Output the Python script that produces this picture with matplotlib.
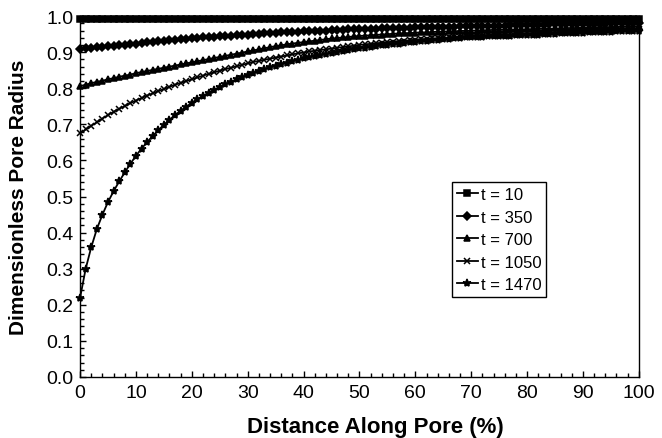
import matplotlib
matplotlib.use("Agg")
import matplotlib.pyplot as plt
from matplotlib.ticker import MultipleLocator, FormatStrFormatter

plt.rcParams['font.family'] = ['Liberation Sans', 'DejaVu Sans']

# Distance along pore (%) - one point per percent
distance = list(range(0, 101))

labels = ["t = 10", "t = 350", "t = 700", "t = 1050", "t = 1470"]

r_t10 = [
    0.993, 0.993, 0.993, 0.993, 0.993, 0.993, 0.993, 0.993, 0.993, 0.993,
    0.993, 0.993, 0.993, 0.993, 0.993, 0.993, 0.993, 0.993, 0.993, 0.993,
    0.993, 0.993, 0.993, 0.993, 0.993, 0.993, 0.993, 0.993, 0.993, 0.993,
    0.993, 0.993, 0.993, 0.993, 0.993, 0.993, 0.993, 0.993, 0.993, 0.993,
    0.993, 0.993, 0.993, 0.993, 0.993, 0.993, 0.993, 0.993, 0.993, 0.993,
    0.993, 0.993, 0.993, 0.993, 0.993, 0.993, 0.993, 0.993, 0.993, 0.993,
    0.993, 0.993, 0.993, 0.993, 0.993, 0.993, 0.993, 0.993, 0.993, 0.993,
    0.993, 0.993, 0.993, 0.993, 0.993, 0.993, 0.993, 0.993, 0.993, 0.993,
    0.993, 0.993, 0.993, 0.993, 0.993, 0.993, 0.993, 0.993, 0.993, 0.993,
    0.993, 0.993, 0.993, 0.993, 0.993, 0.993, 0.993, 0.993, 0.993, 0.993,
    0.993,
]

r_t350 = [
    0.909, 0.911, 0.912, 0.914, 0.915, 0.917, 0.918, 0.920, 0.921, 0.923,
    0.924, 0.926, 0.927, 0.929, 0.930, 0.932, 0.933, 0.934, 0.936, 0.937,
    0.938, 0.939, 0.941, 0.942, 0.943, 0.944, 0.945, 0.946, 0.947, 0.948,
    0.949, 0.950, 0.951, 0.952, 0.953, 0.954, 0.955, 0.955, 0.956, 0.957,
    0.958, 0.958, 0.959, 0.960, 0.960, 0.961, 0.962, 0.962, 0.963, 0.963,
    0.964, 0.964, 0.965, 0.965, 0.966, 0.966, 0.967, 0.967, 0.968, 0.968,
    0.969, 0.969, 0.969, 0.970, 0.970, 0.971, 0.971, 0.971, 0.972, 0.972,
    0.972, 0.973, 0.973, 0.973, 0.974, 0.974, 0.974, 0.975, 0.975, 0.975,
    0.976, 0.976, 0.976, 0.976, 0.977, 0.977, 0.977, 0.978, 0.978, 0.978,
    0.978, 0.979, 0.979, 0.979, 0.979, 0.980, 0.980, 0.980, 0.980, 0.981,
    0.981,
]

r_t700 = [
    0.806, 0.810, 0.814, 0.818, 0.821, 0.825, 0.828, 0.832, 0.835, 0.838,
    0.842, 0.845, 0.848, 0.851, 0.854, 0.857, 0.860, 0.863, 0.866, 0.869,
    0.872, 0.875, 0.878, 0.881, 0.884, 0.887, 0.890, 0.893, 0.896, 0.899,
    0.902, 0.905, 0.908, 0.911, 0.914, 0.917, 0.919, 0.922, 0.924, 0.926,
    0.928, 0.930, 0.932, 0.934, 0.936, 0.938, 0.939, 0.941, 0.942, 0.944,
    0.945, 0.946, 0.947, 0.948, 0.949, 0.950, 0.951, 0.952, 0.953, 0.953,
    0.954, 0.955, 0.955, 0.956, 0.957, 0.957, 0.958, 0.958, 0.959, 0.959,
    0.960, 0.960, 0.961, 0.961, 0.962, 0.962, 0.962, 0.963, 0.963, 0.963,
    0.964, 0.964, 0.965, 0.965, 0.965, 0.966, 0.966, 0.967, 0.967, 0.967,
    0.968, 0.968, 0.969, 0.969, 0.969, 0.970, 0.970, 0.971, 0.971, 0.971,
    0.972,
]

r_t1050 = [
    0.675, 0.686, 0.696, 0.706, 0.716, 0.726, 0.735, 0.743, 0.751, 0.759,
    0.766, 0.773, 0.780, 0.786, 0.792, 0.798, 0.804, 0.810, 0.815, 0.820,
    0.825, 0.830, 0.835, 0.840, 0.844, 0.849, 0.853, 0.857, 0.861, 0.865,
    0.869, 0.873, 0.876, 0.879, 0.882, 0.885, 0.888, 0.891, 0.894, 0.897,
    0.899, 0.902, 0.904, 0.906, 0.908, 0.910, 0.912, 0.914, 0.916, 0.918,
    0.920, 0.922, 0.923, 0.925, 0.926, 0.928, 0.929, 0.931, 0.932, 0.933,
    0.935, 0.936, 0.937, 0.938, 0.939, 0.940, 0.941, 0.942, 0.943, 0.944,
    0.945, 0.946, 0.946, 0.947, 0.948, 0.949, 0.949, 0.950, 0.951, 0.951,
    0.952, 0.953, 0.953, 0.954, 0.955, 0.955, 0.956, 0.957, 0.957, 0.958,
    0.958, 0.959, 0.960, 0.960, 0.961, 0.961, 0.962, 0.963, 0.963, 0.964,
    0.965,
]

r_t1470 = [
    0.220, 0.300, 0.360, 0.410, 0.450, 0.485, 0.515, 0.542, 0.567, 0.591,
    0.613, 0.633, 0.651, 0.668, 0.684, 0.699, 0.713, 0.726, 0.738, 0.749,
    0.760, 0.770, 0.779, 0.788, 0.796, 0.804, 0.811, 0.818, 0.825, 0.831,
    0.837, 0.843, 0.848, 0.853, 0.858, 0.863, 0.867, 0.871, 0.875, 0.879,
    0.883, 0.886, 0.889, 0.892, 0.895, 0.898, 0.901, 0.903, 0.906, 0.908,
    0.911, 0.913, 0.915, 0.917, 0.919, 0.921, 0.923, 0.924, 0.926, 0.928,
    0.929, 0.931, 0.932, 0.933, 0.935, 0.936, 0.937, 0.938, 0.940, 0.941,
    0.942, 0.943, 0.943, 0.944, 0.944, 0.945, 0.945, 0.946, 0.947, 0.947,
    0.948, 0.949, 0.949, 0.950, 0.950, 0.951, 0.952, 0.952, 0.953, 0.953,
    0.954, 0.955, 0.955, 0.956, 0.956, 0.957, 0.958, 0.958, 0.959, 0.959,
    0.960,
]

series = [r_t10, r_t350, r_t700, r_t1050, r_t1470]
markers = ["s", "D", "^", "x", "*"]
msizes = [4.5, 4.0, 5.0, 5.0, 6.0]

fig, ax = plt.subplots(figsize=(6.62, 4.39), dpi=100)
fig.subplots_adjust(left=0.121, right=0.965, top=0.961, bottom=0.139)

for y, m, ms, lab in zip(series, markers, msizes, labels):
    ax.plot(distance, y, color="black", lw=1.3, marker=m, markersize=ms,
            markeredgewidth=1.1, label=lab, clip_on=False)

ax.set_xlim(0, 100)
ax.set_ylim(0, 1.0)
ax.xaxis.set_major_locator(MultipleLocator(10))
ax.xaxis.set_minor_locator(MultipleLocator(2))
ax.yaxis.set_major_locator(MultipleLocator(0.1))
ax.yaxis.set_minor_locator(MultipleLocator(0.02))
ax.yaxis.set_major_formatter(FormatStrFormatter("%.1f"))
ax.tick_params(which="both", direction="in", top=False, right=False,
               labelsize=14, width=1)
ax.tick_params(which="major", length=4, pad=5)
ax.tick_params(which="minor", length=3)
for s in ax.spines.values():
    s.set_linewidth(1.0)

ax.set_xlabel("Distance Along Pore (%)", fontsize=16, fontweight="bold")
ax.xaxis.set_label_coords(0.528, -0.108)
ax.set_ylabel("Dimensionless Pore Radius", fontsize=15, fontweight="bold", labelpad=13)

leg = ax.legend(loc="upper left", bbox_to_anchor=(0.665, 0.54), fontsize=12,
                frameon=True, fancybox=False, edgecolor="black", framealpha=1,
                handlelength=1.3, handletextpad=0.15, borderpad=0.3,
                labelspacing=0.45, borderaxespad=0)
leg.get_frame().set_linewidth(1.0)

plt.savefig("out.png", dpi=100)
plt.close()
